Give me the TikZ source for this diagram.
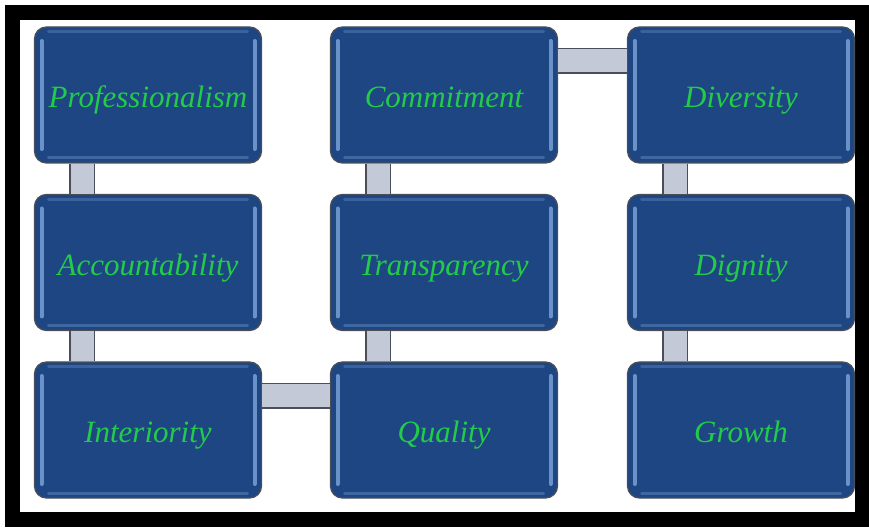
\documentclass[tikz,border=0pt]{standalone}
\usepackage{fontspec}
\setmainfont{Liberation Serif}
\usetikzlibrary{positioning}

\definecolor{boxblue}{HTML}{1E4682}
\definecolor{boxlight}{HTML}{7FA6DA}
\definecolor{boxedge}{HTML}{4A4E58}
\definecolor{wordgreen}{HTML}{22CC4A}
\definecolor{barfill}{HTML}{C4C9D8}

\tikzset{
  valuebox/.style={rectangle,rounded corners=12pt,draw=boxedge,line width=1.3pt,
    fill=boxblue,minimum width=227pt,minimum height=136pt,inner sep=0pt,
    text height=26pt,text depth=0pt,
    text=wordgreen,font=\fontsize{31}{36}\selectfont\itshape,
    path picture={
      \draw[boxlight,line width=4pt,line cap=round,opacity=.8]
        ([xshift=7pt,yshift=-14pt]path picture bounding box.north west) --
        ([xshift=7pt,yshift=14pt]path picture bounding box.south west);
      \draw[boxlight,line width=4pt,line cap=round,opacity=.8]
        ([xshift=-7pt,yshift=-14pt]path picture bounding box.north east) --
        ([xshift=-7pt,yshift=14pt]path picture bounding box.south east);
      \draw[boxlight,line width=3pt,line cap=round,opacity=.35]
        ([xshift=14pt,yshift=5pt]path picture bounding box.south west) --
        ([xshift=-14pt,yshift=5pt]path picture bounding box.south east);
      \draw[boxlight,line width=3pt,line cap=round,opacity=.3]
        ([xshift=14pt,yshift=-5pt]path picture bounding box.north west) --
        ([xshift=-14pt,yshift=-5pt]path picture bounding box.north east);
    }},
  bar/.style={draw=boxedge,line width=1.2pt,double=barfill,double distance=23pt}
}

\begin{document}
\begin{tikzpicture}[x=1pt,y=1pt]
    \useasboundingbox (0,0) rectangle (869,527);
    % black frame
    \draw[black,line width=15pt] (12.5,7.5) rectangle (862.5,514.5);
    \foreach \x/\y/\lab/\word in {148/432/P/Professionalism,148/264.5/A/Accountability,148/97/I/Interiority,
      444/432/C/Commitment,444/264.5/T/Transparency,444/97/Q/Quality,
      741/432/D/Diversity,741/264.5/N/Dignity,741/97/G/Growth} {
      \node[valuebox] (\lab) at (\x,\y) {\word};
    }
    % vertical bars
    \draw[bar] ([xshift=-66pt]P.south) -- ([xshift=-66pt]A.north);
    \draw[bar] ([xshift=-66pt]A.south) -- ([xshift=-66pt]I.north);
    \draw[bar] ([xshift=-66pt]C.south) -- ([xshift=-66pt]T.north);
    \draw[bar] ([xshift=-66pt]T.south) -- ([xshift=-66pt]Q.north);
    \draw[bar] ([xshift=-66pt]D.south) -- ([xshift=-66pt]N.north);
    \draw[bar] ([xshift=-66pt]N.south) -- ([xshift=-66pt]G.north);
    % horizontal bars
    \draw[bar] ([yshift=34pt]C.east) -- ([yshift=34pt]D.west);
    \draw[bar] ([yshift=34pt]I.east) -- ([yshift=34pt]Q.west);
  \end{tikzpicture}
\end{document}
